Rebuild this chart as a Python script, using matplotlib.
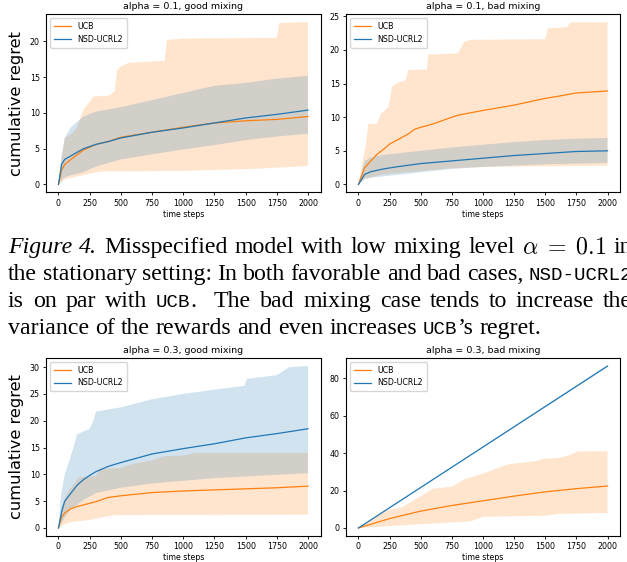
import matplotlib
matplotlib.use('Agg')
import matplotlib.pyplot as plt
import numpy as np

plt.rcParams['mathtext.fontset'] = 'cm'

ORANGE = '#ff7f0e'
BLUE = '#1f77b4'

# ---- alpha = 0.1, good mixing ----
g1_t = [0, 25, 50, 100, 200, 300, 400, 500, 750, 1000, 1250, 1500, 1750, 2000]
g1_ucb = [0, 2.0, 2.8, 3.5, 4.8, 5.6, 6.0, 6.6, 7.3, 8.0, 8.6, 8.9, 9.1, 9.5]
g1_nsd = [0, 2.8, 3.5, 4.0, 5.0, 5.6, 6.0, 6.5, 7.3, 7.9, 8.6, 9.3, 9.8, 10.4]
g1_ucb_hi_t = [0, 20, 50, 100, 150, 200, 250, 280, 400, 450, 470, 500, 560, 850, 870, 1000, 1750, 1770, 2000]
g1_ucb_hi = [0, 3.0, 6.5, 7.0, 8.0, 10.5, 11.5, 12.3, 12.4, 13.0, 16.0, 16.5, 17.0, 17.3, 20.2, 20.4, 20.5, 22.6, 22.7]
g1_ucb_lo_t = [0, 50, 150, 250, 330, 1000, 1600, 2000]
g1_ucb_lo = [0, 0.7, 1.1, 1.5, 1.8, 1.9, 2.2, 2.6]
g1_nsd_hi = [0, 4.0, 6.5, 8.0, 9.5, 10.2, 10.5, 10.8, 11.8, 12.8, 13.8, 14.2, 14.8, 15.2]
g1_nsd_lo = [0, 0.6, 1.0, 1.3, 1.7, 2.5, 3.0, 3.5, 4.2, 4.9, 5.5, 6.2, 6.7, 7.1]

# ---- alpha = 0.1, bad mixing ----
b1_t = [0, 50, 100, 150, 200, 250, 300, 400, 450, 500, 600, 750, 800, 1000, 1250, 1500, 1600, 1750, 2000]
b1_ucb = [0, 2.5, 3.5, 4.5, 5.2, 6.0, 6.5, 7.5, 8.2, 8.5, 9.0, 10.0, 10.3, 11.0, 11.8, 12.8, 13.1, 13.6, 13.9]
b1_ucb_hi_t = [0, 30, 60, 80, 150, 180, 240, 270, 300, 380, 400, 550, 560, 800, 850, 900, 1500, 1520, 1680, 1700, 2000]
b1_ucb_hi = [0, 3.0, 6.0, 9.0, 9.0, 10.5, 11.5, 14.5, 15.0, 15.5, 17.0, 17.1, 19.3, 19.5, 21.2, 21.5, 21.6, 23.2, 23.4, 24.1, 24.1]
b1_ucb_lo_t = [0, 50, 200, 500, 750, 1000, 2000]
b1_ucb_lo = [0, 0.8, 1.5, 2.0, 2.4, 2.6, 2.8]
b1_nsd_t = [0, 50, 100, 200, 300, 500, 750, 1000, 1250, 1500, 1750, 2000]
b1_nsd = [0, 1.5, 1.9, 2.3, 2.6, 3.1, 3.5, 3.9, 4.3, 4.6, 4.9, 5.0]
b1_nsd_hi = [0, 3.5, 4.0, 4.4, 4.6, 5.0, 5.5, 5.9, 6.3, 6.6, 6.8, 6.9]
b1_nsd_lo = [0, 0.8, 1.0, 1.2, 1.4, 1.8, 2.3, 2.6, 2.8, 3.0, 3.1, 3.2]

# ---- alpha = 0.3, good mixing ----
g3_t = [0, 25, 50, 100, 150, 200, 250, 300, 400, 500, 750, 1000, 1250, 1500, 1750, 2000]
g3_ucb = [0, 2.0, 2.8, 3.6, 4.0, 4.3, 4.6, 4.9, 5.7, 6.0, 6.6, 6.9, 7.1, 7.3, 7.5, 7.8]
g3_nsd = [0, 3.0, 5.0, 6.5, 8.0, 9.0, 9.8, 10.5, 11.5, 12.2, 13.8, 14.8, 15.7, 16.8, 17.6, 18.5]
g3_ucb_hi_t = [0, 30, 60, 100, 150, 170, 300, 330, 500, 600, 750, 850, 1000, 1100, 2000]
g3_ucb_hi = [0, 4.0, 6.0, 7.5, 9.0, 9.5, 9.7, 11.0, 11.2, 12.0, 12.6, 13.4, 13.5, 14.0, 14.0]
g3_ucb_lo_t = [0, 50, 100, 250, 350, 450, 2000]
g3_ucb_lo = [0, 0.7, 1.1, 1.5, 2.0, 2.4, 2.5]
g3_nsd_hi_t = [0, 20, 50, 80, 120, 150, 250, 280, 300, 500, 750, 1000, 1250, 1490, 1510, 1750, 1850, 2000]
g3_nsd_hi = [0, 6.0, 10.0, 12.0, 15.0, 17.5, 18.5, 20.0, 21.7, 22.5, 24.0, 25.0, 25.8, 26.5, 27.8, 28.5, 30.0, 30.2]
g3_nsd_lo_t = [0, 50, 100, 200, 300, 500, 750, 1000, 1250, 1500, 1750, 2000]
g3_nsd_lo = [0, 2.0, 3.5, 5.2, 6.5, 7.5, 8.3, 8.8, 9.3, 9.6, 9.9, 10.2]

# ---- alpha = 0.3, bad mixing ----
b3_t = [0, 250, 500, 750, 1000, 1250, 1500, 1750, 2000]
b3_ucb = [0, 5.0, 9.0, 12.0, 14.5, 17.0, 19.3, 21.0, 22.4]
b3_ucb_hi_t = [0, 100, 200, 350, 500, 600, 750, 850, 1000, 1200, 1400, 1500, 1600, 1700, 1750, 2000]
b3_ucb_hi = [0, 4.0, 9.0, 11.0, 17.0, 21.0, 22.0, 26.0, 29.0, 34.0, 35.5, 37.0, 37.3, 39.0, 40.8, 41.0]
b3_ucb_lo_t = [0, 250, 500, 750, 900, 1000, 1500, 1600, 2000]
b3_ucb_lo = [0, 1.0, 2.0, 3.0, 3.5, 6.0, 6.5, 7.5, 8.0]
b3_nsd_t = [0, 2000]
b3_nsd = [0, 86.5]
b3_nsd_hi = [0, 87.0]
b3_nsd_lo = [0, 86.0]

# caption lines: (baseline px, justified?, [(word, font, spaces after)])
SERIF, ITAL, MONO, MATH = 'serif', 'ital', 'mono', 'math'
caption = [
    (253, True, [('Figure', ITAL, 1), ('4.', ITAL, 1), ('Misspecified', SERIF, 1), ('model', SERIF, 1),
                 ('with', SERIF, 1), ('low', SERIF, 1), ('mixing', SERIF, 1), ('level', SERIF, 1),
                 ('$\\alpha\\;=\\;0.1$', MATH, 1), ('in', SERIF, 0)]),
    (280, True, [('the', SERIF, 1), ('stationary', SERIF, 1), ('setting:', SERIF, 1), ('In', SERIF, 1),
                 ('both', SERIF, 1), ('favorable', SERIF, 1), ('and', SERIF, 1), ('bad', SERIF, 1),
                 ('cases,', SERIF, 1), ('NSD-UCRL2', MONO, 0)]),
    (307, True, [('is', SERIF, 1), ('on', SERIF, 1), ('par', SERIF, 1), ('with', SERIF, 1),
                 ('UCB', MONO, 0), ('.', SERIF, 2), ('The', SERIF, 1), ('bad', SERIF, 1),
                 ('mixing', SERIF, 1), ('case', SERIF, 1), ('tends', SERIF, 1), ('to', SERIF, 1),
                 ('increase', SERIF, 1), ('the', SERIF, 0)]),
    (334, False, [('variance', SERIF, 1), ('of', SERIF, 1), ('the', SERIF, 1), ('rewards', SERIF, 1),
                  ('and', SERIF, 1), ('even', SERIF, 1), ('increases', SERIF, 1), ('UCB', MONO, 0),
                  ('\u2019s', SERIF, 1), ('regret.', SERIF, 0)]),
]

W, H = 627, 562
fig = plt.figure(figsize=(W / 100, H / 100), dpi=100)


def box(l, t, r, b):
    return [l / W, 1 - b / H, (r - l) / W, (b - t) / H]


def band(ax, xh, yh, xl, yl, color):
    xs = np.concatenate([np.asarray(xh, float), np.asarray(xl, float)[::-1]])
    ys = np.concatenate([np.asarray(yh, float), np.asarray(yl, float)[::-1]])
    ax.fill(xs, ys, color=color, alpha=0.2, lw=0)


def style(ax, title, yticks, ylab):
    ax.set_title(title, fontsize=6.8, pad=3.5)
    ax.set_xticks(np.arange(0, 2001, 250))
    ax.set_yticks(yticks)
    ax.set_xlim(-100, 2100)
    ax.tick_params(labelsize=5.7, length=2.5, width=0.6, pad=2)
    ax.set_xlabel('time steps', fontsize=5.7, labelpad=1.5)
    if ylab:
        ax.set_ylabel('cumulative regret', fontsize=11.7, labelpad=4)
    for s in ax.spines.values():
        s.set_linewidth(0.8)
    ax.legend(loc='upper left', fontsize=5.7, handlelength=2.2, borderpad=0.5, labelspacing=0.45)


ax1 = fig.add_axes(box(46, 14.3, 320.5, 192.5))
band(ax1, g1_ucb_hi_t, g1_ucb_hi, g1_ucb_lo_t, g1_ucb_lo, ORANGE)
band(ax1, g1_t, g1_nsd_hi, g1_t, g1_nsd_lo, BLUE)
ax1.plot(g1_t, g1_ucb, color=ORANGE, lw=0.9, label='UCB')
ax1.plot(g1_t, g1_nsd, color=BLUE, lw=0.9, label='NSD-UCRL2')
ax1.set_ylim(-1.13, 23.8)
style(ax1, 'alpha = 0.1, good mixing', [0, 5, 10, 15, 20], True)

ax2 = fig.add_axes(box(346, 14.3, 620, 192.5))
band(ax2, b1_ucb_hi_t, b1_ucb_hi, b1_ucb_lo_t, b1_ucb_lo, ORANGE)
band(ax2, b1_nsd_t, b1_nsd_hi, b1_nsd_t, b1_nsd_lo, BLUE)
ax2.plot(b1_t, b1_ucb, color=ORANGE, lw=0.9, label='UCB')
ax2.plot(b1_nsd_t, b1_nsd, color=BLUE, lw=0.9, label='NSD-UCRL2')
ax2.set_ylim(-1.2, 25.3)
style(ax2, 'alpha = 0.1, bad mixing', [0, 5, 10, 15, 20, 25], False)

ax3 = fig.add_axes(box(46, 358, 320.5, 536))
band(ax3, g3_ucb_hi_t, g3_ucb_hi, g3_ucb_lo_t, g3_ucb_lo, ORANGE)
band(ax3, g3_nsd_hi_t, g3_nsd_hi, g3_nsd_lo_t, g3_nsd_lo, BLUE)
ax3.plot(g3_t, g3_ucb, color=ORANGE, lw=0.9, label='UCB')
ax3.plot(g3_t, g3_nsd, color=BLUE, lw=0.9, label='NSD-UCRL2')
ax3.set_ylim(-1.5, 31.7)
style(ax3, 'alpha = 0.3, good mixing', [0, 5, 10, 15, 20, 25, 30], True)

ax4 = fig.add_axes(box(346, 358, 620, 536))
band(ax4, b3_ucb_hi_t, b3_ucb_hi, b3_ucb_lo_t, b3_ucb_lo, ORANGE)
band(ax4, b3_nsd_t, b3_nsd_hi, b3_nsd_t, b3_nsd_lo, BLUE)
ax4.plot(b3_t, b3_ucb, color=ORANGE, lw=0.9, label='UCB')
ax4.plot(b3_nsd_t, b3_nsd, color=BLUE, lw=0.9, label='NSD-UCRL2')
ax4.set_ylim(-4.3, 90.8)
style(ax4, 'alpha = 0.3, bad mixing', [0, 20, 40, 60, 80], False)

# ---- caption between the two rows (justified like the paper) ----
cap = fig.add_axes([0, 0, 1, 1], zorder=-1)
cap.axis('off')
cap.set_xlim(0, W)
cap.set_ylim(H, 0)

CS = 17.2
fonts = {
    SERIF: dict(family='Liberation Serif', fontsize=CS),
    ITAL: dict(family='Liberation Serif', fontsize=CS, style='italic'),
    MONO: dict(family='Liberation Mono', fontsize=CS * 0.8),
    MATH: dict(family='Liberation Serif', fontsize=CS),
}
X0, X1 = 8, 632
renderer = fig.canvas.get_renderer()


def width(s, f):
    t = cap.text(0, 0, s, **fonts[f])
    w = t.get_window_extent(renderer).width
    t.remove()
    return w


space = width('a a', SERIF) - width('aa', SERIF)
for yb, justify, words in caption:
    ws = [width(s, f) for s, f, n in words]
    nsp = sum(n for s, f, n in words[:-1])
    gap = space
    if justify and nsp:
        gap = space + (X1 - X0 - sum(ws) - nsp * space) / nsp
    x = X0
    for (s, f, n), w in zip(words, ws):
        cap.text(x, yb, s, va='baseline', ha='left', **fonts[f])
        x += w + n * gap

fig.savefig('out.png', dpi=100)
